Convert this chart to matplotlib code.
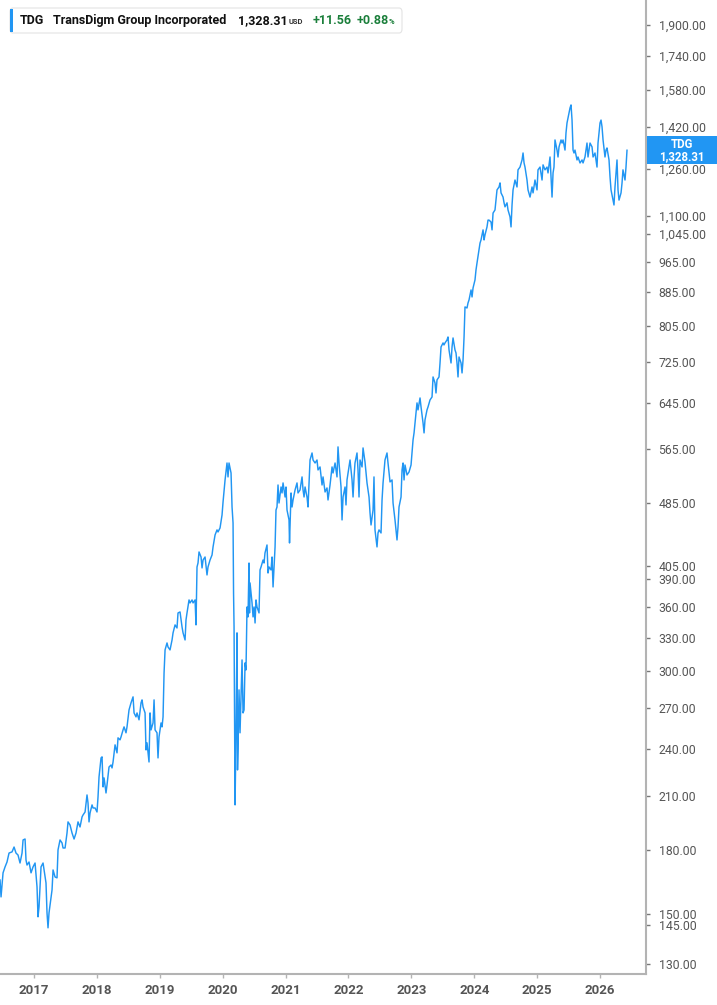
import matplotlib
matplotlib.use("Agg")
import matplotlib.pyplot as plt
from matplotlib.patches import FancyBboxPatch, Rectangle
from matplotlib.ticker import FixedLocator, FuncFormatter, NullLocator

plt.rcParams['font.family'] = ['Roboto', 'DejaVu Sans']

# ---------------- data (decimal year, price) ----------------
years = [
 2016.460, 2016.476, 2016.508, 2016.540, 2016.571, 2016.603, 2016.651, 2016.683, 2016.714, 2016.746,
 2016.778, 2016.810, 2016.826, 2016.858, 2016.873, 2016.889, 2016.921, 2016.953, 2016.985, 2017.017,
 2017.048, 2017.064, 2017.080, 2017.112, 2017.144, 2017.160, 2017.191, 2017.207, 2017.223, 2017.239,
 2017.287, 2017.303, 2017.335, 2017.366, 2017.382, 2017.414, 2017.446, 2017.462, 2017.494, 2017.525,
 2017.541, 2017.573, 2017.605, 2017.637, 2017.668, 2017.700, 2017.732, 2017.764, 2017.780, 2017.812,
 2017.843, 2017.859, 2017.875, 2017.891, 2017.923, 2017.939, 2017.971, 2018.002, 2018.018, 2018.034,
 2018.066, 2018.082, 2018.098, 2018.114, 2018.145, 2018.161, 2018.193, 2018.225, 2018.241, 2018.257,
 2018.289, 2018.320, 2018.336, 2018.368, 2018.384, 2018.416, 2018.432, 2018.463, 2018.479, 2018.511,
 2018.543, 2018.575, 2018.591, 2018.622, 2018.638, 2018.670, 2018.702, 2018.718, 2018.734, 2018.766,
 2018.781, 2018.797, 2018.829, 2018.845, 2018.861, 2018.893, 2018.909, 2018.925, 2018.956, 2018.972,
 2018.988, 2019.020, 2019.036, 2019.052, 2019.068, 2019.084, 2019.115, 2019.131, 2019.163, 2019.195,
 2019.211, 2019.243, 2019.274, 2019.290, 2019.322, 2019.354, 2019.370, 2019.402, 2019.417, 2019.433,
 2019.465, 2019.481, 2019.513, 2019.529, 2019.561, 2019.576, 2019.592, 2019.608, 2019.624, 2019.656,
 2019.672, 2019.688, 2019.720, 2019.751, 2019.767, 2019.799, 2019.831, 2019.847, 2019.879, 2019.910,
 2019.926, 2019.958, 2019.990, 2020.006, 2020.038, 2020.069, 2020.085, 2020.101, 2020.133, 2020.149,
 2020.165, 2020.173, 2020.181, 2020.197, 2020.212, 2020.228, 2020.236, 2020.244, 2020.260, 2020.276,
 2020.292, 2020.308, 2020.324, 2020.340, 2020.356, 2020.371, 2020.387, 2020.403, 2020.419, 2020.427,
 2020.435, 2020.467, 2020.483, 2020.499, 2020.515, 2020.530, 2020.546, 2020.578, 2020.594, 2020.610,
 2020.642, 2020.658, 2020.673, 2020.705, 2020.721, 2020.737, 2020.769, 2020.785, 2020.801, 2020.833,
 2020.848, 2020.864, 2020.880, 2020.896, 2020.928, 2020.944, 2020.960, 2020.992, 2021.007, 2021.023,
 2021.055, 2021.063, 2021.087, 2021.103, 2021.119, 2021.151, 2021.182, 2021.198, 2021.230, 2021.262,
 2021.278, 2021.294, 2021.310, 2021.341, 2021.357, 2021.389, 2021.421, 2021.437, 2021.469, 2021.500,
 2021.516, 2021.548, 2021.580, 2021.596, 2021.628, 2021.659, 2021.675, 2021.707, 2021.739, 2021.755,
 2021.787, 2021.818, 2021.834, 2021.850, 2021.882, 2021.898, 2021.914, 2021.946, 2021.961, 2021.977,
 2022.009, 2022.025, 2022.057, 2022.073, 2022.089, 2022.104, 2022.136, 2022.152, 2022.168, 2022.184,
 2022.216, 2022.232, 2022.263, 2022.279, 2022.295, 2022.327, 2022.343, 2022.359, 2022.391, 2022.406,
 2022.422, 2022.454, 2022.470, 2022.486, 2022.518, 2022.534, 2022.550, 2022.581, 2022.613, 2022.629,
 2022.661, 2022.693, 2022.709, 2022.740, 2022.772, 2022.788, 2022.804, 2022.836, 2022.852, 2022.868,
 2022.884, 2022.899, 2022.931, 2022.963, 2022.995, 2023.011, 2023.027, 2023.043, 2023.058, 2023.074,
 2023.090, 2023.106, 2023.138, 2023.154, 2023.186, 2023.202, 2023.217, 2023.249, 2023.265, 2023.297,
 2023.329, 2023.345, 2023.376, 2023.392, 2023.408, 2023.440, 2023.456, 2023.472, 2023.504, 2023.519,
 2023.535, 2023.567, 2023.583, 2023.599, 2023.631, 2023.647, 2023.663, 2023.694, 2023.710, 2023.726,
 2023.742, 2023.758, 2023.790, 2023.806, 2023.822, 2023.838, 2023.853, 2023.885, 2023.901, 2023.917,
 2023.949, 2023.965, 2023.981, 2024.012, 2024.028, 2024.044, 2024.076, 2024.092, 2024.108, 2024.140,
 2024.156, 2024.171, 2024.203, 2024.219, 2024.235, 2024.267, 2024.283, 2024.299, 2024.330, 2024.346,
 2024.362, 2024.394, 2024.410, 2024.426, 2024.458, 2024.474, 2024.489, 2024.521, 2024.537, 2024.569,
 2024.585, 2024.601, 2024.617, 2024.648, 2024.680, 2024.696, 2024.728, 2024.760, 2024.776, 2024.792,
 2024.807, 2024.839, 2024.855, 2024.887, 2024.919, 2024.935, 2024.966, 2024.998, 2025.014, 2025.046,
 2025.078, 2025.094, 2025.125, 2025.157, 2025.173, 2025.205, 2025.237, 2025.253, 2025.268, 2025.284,
 2025.316, 2025.332, 2025.348, 2025.380, 2025.396, 2025.412, 2025.443, 2025.459, 2025.475, 2025.507,
 2025.523, 2025.539, 2025.555, 2025.571, 2025.586, 2025.602, 2025.634, 2025.650, 2025.682, 2025.714,
 2025.730, 2025.761, 2025.793, 2025.809, 2025.841, 2025.873, 2025.889, 2025.920, 2025.952, 2025.968,
 2026.000, 2026.016, 2026.032, 2026.048, 2026.079, 2026.095, 2026.111, 2026.143, 2026.159, 2026.175,
 2026.207, 2026.222, 2026.238, 2026.270, 2026.286, 2026.302, 2026.334, 2026.350, 2026.365, 2026.397,
 2026.413, 2026.429,
]
prices = [
 165.1, 157.3, 168.5, 171.4, 173.8, 178.3, 178.9, 181.4, 178.3, 177.3,
 173.3, 178.3, 185.1, 185.6, 174.8, 172.3, 173.8, 168.5, 171.4, 173.3,
 161.9, 148.6, 152.9, 171.4, 173.3, 169.9, 163.7, 150.3, 144.0, 150.3,
 160.5, 169.9, 166.5, 166.1, 179.9, 185.1, 183.5, 180.9, 180.9, 188.8,
 194.9, 193.2, 188.8, 185.6, 188.8, 194.9, 192.1, 197.7, 198.8, 200.5,
 210.5, 205.7, 194.9, 199.9, 204.6, 202.8, 202.8, 200.5, 209.3, 221.6,
 234.0, 234.7, 215.4, 221.0, 211.7, 216.6, 228.0, 229.3, 227.4, 231.3,
 242.9, 237.4, 247.8, 246.4, 248.5, 253.5, 255.7, 251.4, 255.7, 268.4,
 273.9, 278.6, 266.1, 263.1, 266.1, 260.9, 273.9, 276.2, 270.7, 266.1,
 239.4, 244.3, 231.3, 266.1, 253.5, 258.6, 276.2, 253.5, 251.4, 234.0,
 248.5, 258.6, 255.7, 263.1, 298.3, 318.6, 325.0, 321.3, 318.6, 327.8,
 334.5, 342.2, 339.2, 354.1, 355.1, 340.2, 334.5, 327.8, 347.1, 354.1,
 367.5, 364.4, 367.5, 364.4, 367.5, 342.2, 403.8, 408.4, 421.5, 415.5,
 402.7, 411.9, 415.5, 394.7, 403.8, 411.9, 417.9, 427.6, 442.5, 448.9,
 446.3, 451.4, 468.5, 486.2, 517.8, 543.5, 522.3, 543.5, 528.2, 479.3,
 457.9, 374.9, 340.2, 204.6, 251.4, 334.5, 226.1, 239.4, 284.2, 251.4,
 278.6, 309.6, 266.1, 268.4, 307.0, 300.9, 360.2, 350.1, 408.4, 354.1,
 385.8, 364.4, 350.1, 360.2, 344.1, 367.5, 360.2, 354.1, 400.4, 403.8,
 411.9, 408.4, 420.3, 430.0, 396.9, 403.8, 400.4, 415.5, 381.4, 427.6,
 475.2, 479.3, 510.4, 484.8, 507.5, 498.9, 513.4, 493.2, 507.5, 475.2,
 461.9, 432.5, 498.9, 479.3, 489.0, 503.2, 513.4, 498.9, 503.2, 522.3,
 503.2, 493.2, 507.5, 493.2, 479.3, 548.2, 559.3, 548.2, 543.5, 548.2,
 532.8, 537.4, 510.4, 522.3, 500.3, 506.1, 489.0, 510.4, 537.4, 528.2,
 543.5, 522.3, 569.1, 543.5, 507.5, 461.9, 493.2, 507.5, 482.1, 517.8,
 537.4, 548.2, 517.8, 493.2, 522.3, 543.5, 559.3, 532.8, 493.2, 548.2,
 537.4, 567.4, 545.1, 528.2, 513.4, 493.2, 471.2, 455.3, 475.2, 522.3,
 448.9, 427.6, 445.0, 448.9, 445.0, 489.0, 513.4, 548.2, 559.3, 543.5,
 514.9, 517.8, 484.8, 461.9, 436.2, 452.7, 479.3, 493.2, 532.8, 543.5,
 517.8, 540.4, 525.2, 529.7, 540.4, 560.9, 580.5, 592.3, 609.4, 627.0,
 645.3, 632.5, 654.5, 637.9, 609.4, 592.3, 614.7, 632.5, 637.9, 650.8,
 656.4, 695.0, 683.2, 663.9, 689.1, 695.0, 723.3, 757.2, 765.9, 761.6,
 765.9, 772.5, 779.1, 750.7, 723.3, 757.2, 776.9, 750.7, 744.3, 723.3,
 695.0, 735.8, 723.3, 703.0, 729.5, 779.1, 848.9, 846.4, 858.6, 866.0,
 891.1, 873.5, 896.2, 917.0, 943.6, 962.5, 999.0, 1019, 1028, 1058,
 1028, 1043, 1067, 1088, 1088, 1082, 1058, 1110, 1120, 1152,
 1186, 1196, 1210, 1176, 1162, 1143, 1130, 1143, 1120, 1098,
 1067, 1136, 1186, 1220, 1196, 1256, 1266, 1292, 1318, 1281,
 1266, 1220, 1186, 1162, 1196, 1176, 1220, 1186, 1256, 1266,
 1220, 1274, 1256, 1266, 1245, 1303, 1162, 1245, 1266, 1368,
 1329, 1303, 1341, 1368, 1356, 1368, 1329, 1396, 1436, 1477,
 1499, 1512, 1448, 1329, 1318, 1329, 1292, 1303, 1281, 1292,
 1281, 1303, 1356, 1303, 1356, 1341, 1303, 1318, 1266, 1356,
 1436, 1448, 1420, 1368, 1303, 1329, 1337, 1292, 1231, 1186,
 1152, 1136, 1196, 1292, 1186, 1152, 1176, 1210, 1256, 1220,
 1266, 1328.31,
]

y_ticks = [130, 145, 150, 180, 210, 240, 270, 300, 330, 360, 390, 405, 485, 565,
           645, 725, 805, 885, 965, 1045, 1100, 1260, 1420, 1580, 1740, 1900]
x_ticks = [2017, 2018, 2019, 2020, 2021, 2022, 2023, 2024, 2025, 2026]

ticker = "TDG"
company = "TransDigm Group Incorporated"
last_price_label = "1,328.31"
change_label = "+11.56"
pct_label = "+0.88"

# ---------------- figure ----------------
W, H = 717, 1005
fig = plt.figure(figsize=(W / 100, H / 100), dpi=100)
fig.patch.set_facecolor("white")

ax = fig.add_axes([0, 31 / H, 646 / W, 974 / H])
blue = "#2196F3"
ax.plot(years, prices, color=blue, lw=1.05, solid_joinstyle="round")

ax.set_yscale("log")
ax.set_xlim(2016.4595, 2026.731)
ax.set_ylim(126.2, 2040.6)

ax.yaxis.tick_right()
ax.yaxis.set_major_locator(FixedLocator(y_ticks))
ax.yaxis.set_minor_locator(NullLocator())
ax.yaxis.set_major_formatter(FuncFormatter(lambda v, p: f"{v:,.2f}"))
ax.xaxis.set_major_locator(FixedLocator(x_ticks))
ax.xaxis.set_minor_locator(NullLocator())
ax.xaxis.set_major_formatter(FuncFormatter(lambda v, p: f"{int(round(v))}"))

for s in ["top", "left"]:
    ax.spines[s].set_visible(False)
for s in ["right", "bottom"]:
    ax.spines[s].set_color("#b3b3b3")
    ax.spines[s].set_linewidth(1.5)

ax.tick_params(axis="y", which="major", direction="out", length=3, width=1,
               color="#777777", pad=6, labelsize=8.8, labelcolor="#555555")
ax.tick_params(axis="x", which="major", direction="out", length=3, width=1,
               color="#b3b3b3", pad=4, labelsize=9.5, labelcolor="#555555")
for lab in ax.get_xticklabels():
    lab.set_fontweight("bold")

# price tag on the right axis at the last price (position from the data scale)
fig.canvas.draw()
y_disp = ax.transData.transform((years[-1], prices[-1]))[1]  # display pixels
y_fig = y_disp / fig.bbox.height
tag_h = 28 / H
fig.add_artist(Rectangle((647 / W, y_fig - tag_h / 2), 70 / W, tag_h,
                         transform=fig.transFigure, fc=blue, ec="none", zorder=5))
fig.text(682 / W, y_fig + 6 / H, ticker, ha="center", va="center", color="white",
         fontsize=8.3, fontweight="bold", zorder=6)
fig.text(682 / W, y_fig - 6 / H, last_price_label, ha="center", va="center", color="white",
         fontsize=8.3, fontweight="bold", zorder=6)

# header box
hdr = FancyBboxPatch((10 / W, 1 - 33 / H), (402 - 10) / W, 25 / H,
                     boxstyle="round,pad=0,rounding_size=0.004",
                     transform=fig.transFigure, fc="white", ec="#e3e3e3", lw=0.8)
fig.add_artist(hdr)
fig.add_artist(Rectangle((10 / W, 1 - 32 / H), 3 / W, 23 / H,
                         transform=fig.transFigure, fc=blue, ec="none"))

yt = 1 - 20.5 / H
fs = 9.0
fig.text(20 / W, yt, ticker, fontsize=fs, fontweight="bold", color="#111111", va="center")
fig.text(53 / W, yt, company, fontsize=fs, fontweight="bold", color="#111111", va="center")
fig.text(238 / W, yt, last_price_label, fontsize=fs, fontweight="bold", color="#111111", va="center")
fig.text(289 / W, yt - 1.5 / H, "USD", fontsize=5.5, fontweight="bold", color="#333333", va="center")
fig.text(313 / W, yt, change_label, fontsize=fs, fontweight="bold", color="#1b7f3b", va="center")
fig.text(357 / W, yt, pct_label, fontsize=fs, fontweight="bold", color="#1b7f3b", va="center")
fig.text(389 / W, yt - 1.5 / H, "%", fontsize=5.5, fontweight="bold", color="#1b7f3b", va="center")

fig.savefig("out.png", dpi=100, facecolor="white")
